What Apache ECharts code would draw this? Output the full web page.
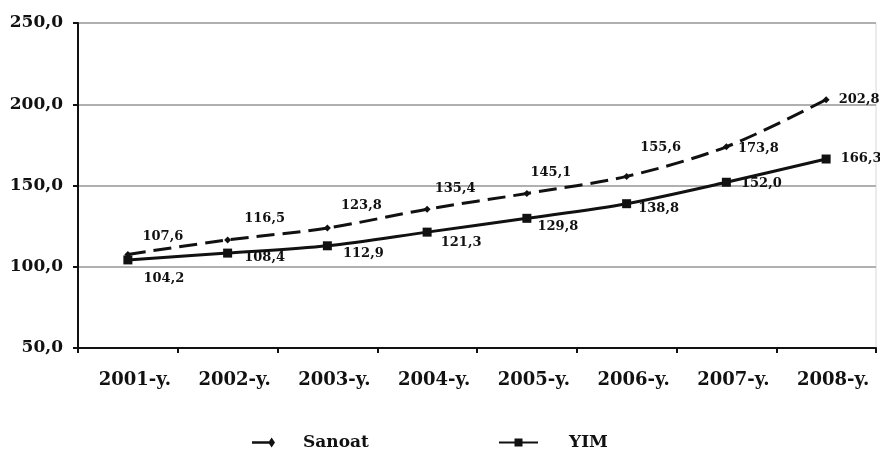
<!DOCTYPE html>
<html><head><meta charset="utf-8">
<script src="https://cdn.jsdelivr.net/npm/echarts@6/dist/echarts.min.js"></script>
<style>html,body{margin:0;padding:0;background:#fff}#c{width:880px;height:451px}</style>
</head><body><div id="c"></div>
<script>
const categories = ['2001-y.','2002-y.','2003-y.','2004-y.','2005-y.','2006-y.','2007-y.','2008-y.'];
const sanoat = [107.6,116.5,123.8,135.4,145.1,155.6,173.8,202.8];
const yim = [104.2,108.4,112.9,121.3,129.8,138.8,152.0,166.3];
const yTicks = [50,100,150,200,250];

const sanoatOffsets = [[35,-18],[37,-21],[34,-22],[28,-21],[24,-21],[34,-29],[32,2],[33,0]];
const yimOffsets = [[36,19],[37,5],[36,8],[34,10],[31,8],[32,5],[35,1],[35,0]];

const font = 'DejaVu Serif';
const fmt = v => v.toFixed(1).replace('.',',');
function mk(vals, offs){
  return vals.map((v,i)=>({value:v,label:{offset:offs[i]}}));
}
const sanoatIcon = 'path://M0 4.2 H18 V5.8 H0 Z M17 5 L20.5 1.5 L24 5 L20.5 8.5 Z';
const chart = echarts.init(document.getElementById('c'));
chart.setOption({
  animation:false,
  textStyle:{fontFamily:font},
  grid:{left:78,right:4,top:23,bottom:103,show:true,borderColor:'#d8d8d8',borderWidth:1},
  xAxis:{type:'category',data:categories,boundaryGap:true,
    axisLine:{lineStyle:{color:'#111',width:2}},
    axisTick:{show:true,length:5,lineStyle:{color:'#111',width:2}},
    axisLabel:{color:'#111',fontFamily:font,fontWeight:'bold',fontSize:18,margin:23,padding:[0,0,0,14]}},
  yAxis:{type:'value',min:yTicks[0],max:yTicks[yTicks.length-1],interval:50,
    axisLine:{show:true,lineStyle:{color:'#111',width:2}},
    axisTick:{show:true,length:5,lineStyle:{color:'#111',width:2}},
    splitLine:{lineStyle:{color:'#b0b0b0',width:2}},
    axisLabel:{color:'#111',fontFamily:font,fontWeight:'bold',fontSize:17,margin:15,
      formatter:fmt}},
  legend:[
    {left:247,top:429,itemWidth:23,itemHeight:10,symbolKeepAspect:false,
     textStyle:{fontFamily:font,fontWeight:'bold',fontSize:17,color:'#111',padding:[0,0,0,23]},
     data:[{name:'Sanoat',icon:sanoatIcon,itemStyle:{color:'#111',borderWidth:0}}]},
    {left:493,top:429,itemWidth:39,itemHeight:10,
     textStyle:{fontFamily:font,fontWeight:'bold',fontSize:17,color:'#111',padding:[0,0,0,26]},
     data:['YIM']}
  ],
  series:[
    {name:'Sanoat',type:'line',smooth:0.3,data:mk(sanoat,sanoatOffsets),
      symbol:'diamond',symbolSize:7,
      itemStyle:{color:'#111'},
      lineStyle:{color:'#111',width:3,type:[18,8]},
      label:{show:true,position:'inside',color:'#111',fontFamily:font,fontWeight:'bold',fontSize:13,
        formatter:p=>fmt(p.value)}},
    {name:'YIM',type:'line',smooth:0.3,data:mk(yim,yimOffsets),
      symbol:'rect',symbolSize:9,
      itemStyle:{color:'#111'},
      lineStyle:{color:'#111',width:3},
      label:{show:true,position:'inside',color:'#111',fontFamily:font,fontWeight:'bold',fontSize:13,
        formatter:p=>fmt(p.value)}}
  ]
});
</script></body></html>
